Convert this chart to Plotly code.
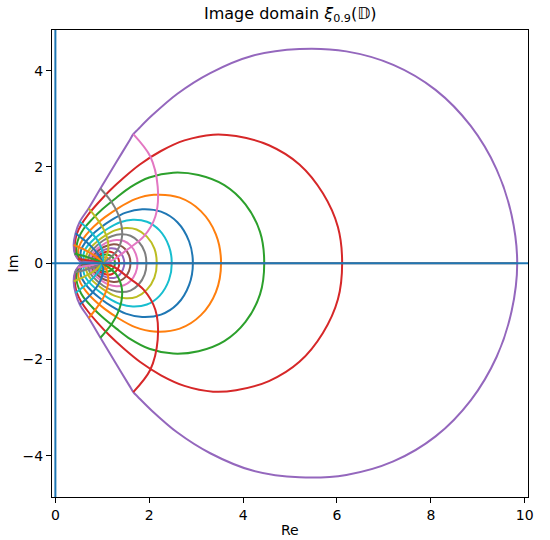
import plotly.graph_objects as go

# matplotlib default colour cycle
COLORS = ['#1f77b4', '#ff7f0e', '#2ca02c', '#d62728', '#9467bd',
          '#8c564b', '#e377c2', '#7f7f7f', '#bcbd22', '#17becf']

# ---- images of circles |z| = r (upper halves: right end -> left end)
circle_x = [
    [1.10, 1.09, 1.065, 1.02, 0.98, 0.94, 0.91],
    [1.18, 1.165, 1.13, 1.08, 1.03, 0.97, 0.92, 0.87],
    [1.27, 1.25, 1.20, 1.14, 1.07, 0.99, 0.92, 0.87, 0.83],
    [1.36, 1.34, 1.28, 1.20, 1.11, 1.01, 0.92, 0.85, 0.80],
    [1.47, 1.44, 1.37, 1.28, 1.17, 1.05, 0.94, 0.85, 0.79, 0.77],
    [1.60, 1.57, 1.48, 1.37, 1.24, 1.10, 0.97, 0.86, 0.78, 0.74],
    [1.75, 1.71, 1.60, 1.46, 1.30, 1.14, 0.99, 0.87, 0.78, 0.73, 0.71],
    [1.94, 1.90, 1.77, 1.60, 1.40, 1.20, 1.02, 0.88, 0.77, 0.71, 0.69],
    [2.16, 2.11, 1.95, 1.73, 1.50, 1.27, 1.06, 0.89, 0.76, 0.68, 0.65, 0.665],
    [2.48, 2.42, 2.22, 1.95, 1.65, 1.38, 1.12, 0.92, 0.76, 0.65, 0.60, 0.61, 0.64],
    [2.93, 2.85, 2.60, 2.25, 1.85, 1.50, 1.20, 0.95, 0.76, 0.63, 0.55, 0.54, 0.58, 0.62],
    [3.53, 3.42, 3.10, 2.65, 2.10, 1.70, 1.35, 1.05, 0.82, 0.65, 0.54, 0.49, 0.50, 0.56, 0.61],
    [4.45, 4.36, 4.05, 3.60, 3.05, 2.51, 2.00, 1.60, 1.30, 1.00, 0.78, 0.60, 0.50, 0.45, 0.46, 0.53, 0.59],
    [6.11, 6.02, 5.70, 5.20, 4.55, 3.85, 3.36, 2.75, 2.25, 1.80, 1.45, 1.15, 0.90, 0.70, 0.55, 0.46, 0.42, 0.41, 0.44, 0.52, 0.57],
    [9.84, 9.72, 9.40, 8.85, 8.10, 7.20, 6.20, 5.20, 4.20, 3.30, 2.60, 2.05, 1.76, 1.66, 1.58, 1.30, 0.96, 0.71, 0.52, 0.43, 0.39, 0.42, 0.50, 0.56],
]
circle_y = [
    [0.0, 0.035, 0.06, 0.07, 0.065, 0.04, 0.0],
    [0.0, 0.055, 0.095, 0.117, 0.12, 0.10, 0.06, 0.0],
    [0.0, 0.08, 0.14, 0.17, 0.18, 0.16, 0.11, 0.05, 0.0],
    [0.0, 0.10, 0.18, 0.23, 0.24, 0.21, 0.16, 0.09, 0.0],
    [0.0, 0.13, 0.24, 0.30, 0.31, 0.28, 0.22, 0.14, 0.06, 0.0],
    [0.0, 0.16, 0.30, 0.37, 0.39, 0.36, 0.30, 0.21, 0.12, 0.0],
    [0.0, 0.20, 0.37, 0.46, 0.48, 0.45, 0.37, 0.28, 0.18, 0.08, 0.0],
    [0.0, 0.24, 0.45, 0.57, 0.60, 0.56, 0.47, 0.36, 0.25, 0.13, 0.0],
    [0.0, 0.30, 0.55, 0.70, 0.73, 0.68, 0.57, 0.45, 0.33, 0.21, 0.10, 0.0],
    [0.0, 0.35, 0.68, 0.86, 0.90, 0.85, 0.72, 0.58, 0.44, 0.31, 0.18, 0.07, 0.0],
    [0.0, 0.45, 0.85, 1.07, 1.12, 1.05, 0.90, 0.73, 0.57, 0.42, 0.28, 0.14, 0.04, 0.0],
    [0.0, 0.60, 1.08, 1.36, 1.42, 1.33, 1.15, 0.95, 0.76, 0.58, 0.42, 0.28, 0.14, 0.04, 0.0],
    [0.0, 0.65, 1.22, 1.62, 1.83, 1.88, 1.78, 1.58, 1.36, 1.12, 0.91, 0.71, 0.53, 0.35, 0.18, 0.06, 0.0],
    [0.0, 0.75, 1.45, 2.05, 2.45, 2.64, 2.67, 2.55, 2.33, 2.05, 1.77, 1.50, 1.24, 1.01, 0.80, 0.62, 0.45, 0.30, 0.15, 0.05, 0.0],
    [0.0, 1.00, 1.95, 2.85, 3.60, 4.12, 4.40, 4.45, 4.31, 3.95, 3.52, 3.06, 2.78, 2.68, 2.55, 2.10, 1.55, 1.14, 0.86, 0.62, 0.38, 0.18, 0.06, 0.0],
]

# ---- images of the rays arg z = const (upper half, from the centre 1 outwards)
ray0_x = [1.0, 9.84]
ray0_y = [0.0, 0.0]
ray_x = [
    [1.0, 1.25, 1.53, 1.88, 2.13, 2.18, 2.02, 1.66],
    [1.0, 1.15, 1.31, 1.42, 1.38, 1.21, 0.96],
    [1.0, 1.07, 1.12, 1.12, 1.03, 0.88, 0.71],
    [1.0, 1.02, 1.00, 0.93, 0.80, 0.65, 0.52],
    [1.0, 0.97, 0.90, 0.78, 0.64, 0.52, 0.43],
    [1.0, 0.95, 0.86, 0.73, 0.60, 0.48, 0.39],
    [1.0, 0.93, 0.82, 0.70, 0.57, 0.47, 0.41],
    [1.0, 0.90, 0.78, 0.66, 0.55, 0.48],
    [1.0, 0.85, 0.70, 0.56],
]
ray_y = [
    [0.0, 0.08, 0.28, 0.55, 0.97, 1.59, 2.22, 2.68],
    [0.0, 0.10, 0.25, 0.55, 0.90, 1.25, 1.55],
    [0.0, 0.10, 0.25, 0.45, 0.70, 0.93, 1.14],
    [0.0, 0.10, 0.25, 0.42, 0.60, 0.75, 0.86],
    [0.0, 0.08, 0.20, 0.33, 0.46, 0.55, 0.62],
    [0.0, 0.06, 0.14, 0.22, 0.29, 0.34, 0.38],
    [0.0, 0.04, 0.08, 0.12, 0.16, 0.18, 0.20],
    [0.0, 0.02, 0.04, 0.06, 0.08, 0.09],
    [0.0, 0.01, 0.02, 0.02],
]

x_ticks = [0, 2, 4, 6, 8, 10]
y_ticks = [-4, -2, 0, 2, 4]
x_range = [-0.072, 10.07]
y_range = [-4.859, 4.844]
hline_y = 0
vline_x = 0

fig = go.Figure()
idx = 0


def add(xs, ys, ci):
    fig.add_trace(go.Scatter(x=xs, y=ys, mode='lines', hoverinfo='skip',
                             line=dict(color=COLORS[ci % 10], width=2,
                                       shape='spline', smoothing=0.9)))


for cx, cy in zip(circle_x, circle_y):
    xs = cx + cx[-2::-1]
    ys = cy + [-v for v in cy[-2::-1]]
    add(xs, ys, idx)
    idx += 1

add(ray0_x, ray0_y, idx)
idx += 1
for rx, ry in zip(ray_x, ray_y):
    add(rx, ry, idx)
    idx += 1
for rx, ry in zip(ray_x[::-1], ray_y[::-1]):
    add(rx, [-v for v in ry], idx)
    idx += 1

fig.add_shape(type='line', xref='x domain', yref='y', x0=0, x1=1, y0=hline_y, y1=hline_y,
              line=dict(color=COLORS[0], width=2), layer='above')
fig.add_shape(type='line', xref='x', yref='y domain', x0=vline_x, x1=vline_x, y0=0, y1=1,
              line=dict(color=COLORS[0], width=2), layer='above')

font = 'DejaVu Sans, Arial, sans-serif'
axis_common = dict(showgrid=False, zeroline=False, showline=True, mirror=True,
                   linecolor='black', linewidth=1, ticks='outside', ticklen=5,
                   tickwidth=1, tickcolor='black',
                   tickfont=dict(family=font, size=14, color='black'))
fig.update_layout(
    width=550, height=540,
    margin=dict(l=52, r=22, t=30, b=43),
    paper_bgcolor='white', plot_bgcolor='white',
    showlegend=False, hovermode=False,
    xaxis=dict(range=x_range, tickvals=x_ticks, **axis_common),
    yaxis=dict(range=y_range, tickvals=y_ticks, **axis_common),
    annotations=[
        dict(text='Image domain <i>ξ</i><sub>0.9</sub>(𝔻)', xref='paper', yref='paper',
             x=0.5, y=1.0, yshift=16, xanchor='center', yanchor='middle', showarrow=False,
             font=dict(family=font, size=16, color='black')),
        dict(text='Re', xref='paper', yref='paper', x=0.5, y=0, yshift=-33,
             xanchor='center', yanchor='middle', showarrow=False,
             font=dict(family=font, size=14, color='black')),
        dict(text='Im', xref='paper', yref='paper', x=0, y=0.5, xshift=-40,
             xanchor='center', yanchor='middle', textangle=-90, showarrow=False,
             font=dict(family=font, size=14, color='black')),
    ],
)
fig.write_html('out.html', config={'displayModeBar': False},
               post_script="document.body.style.margin='0';document.body.style.padding='0';"
                           "document.body.style.overflow='hidden';")
